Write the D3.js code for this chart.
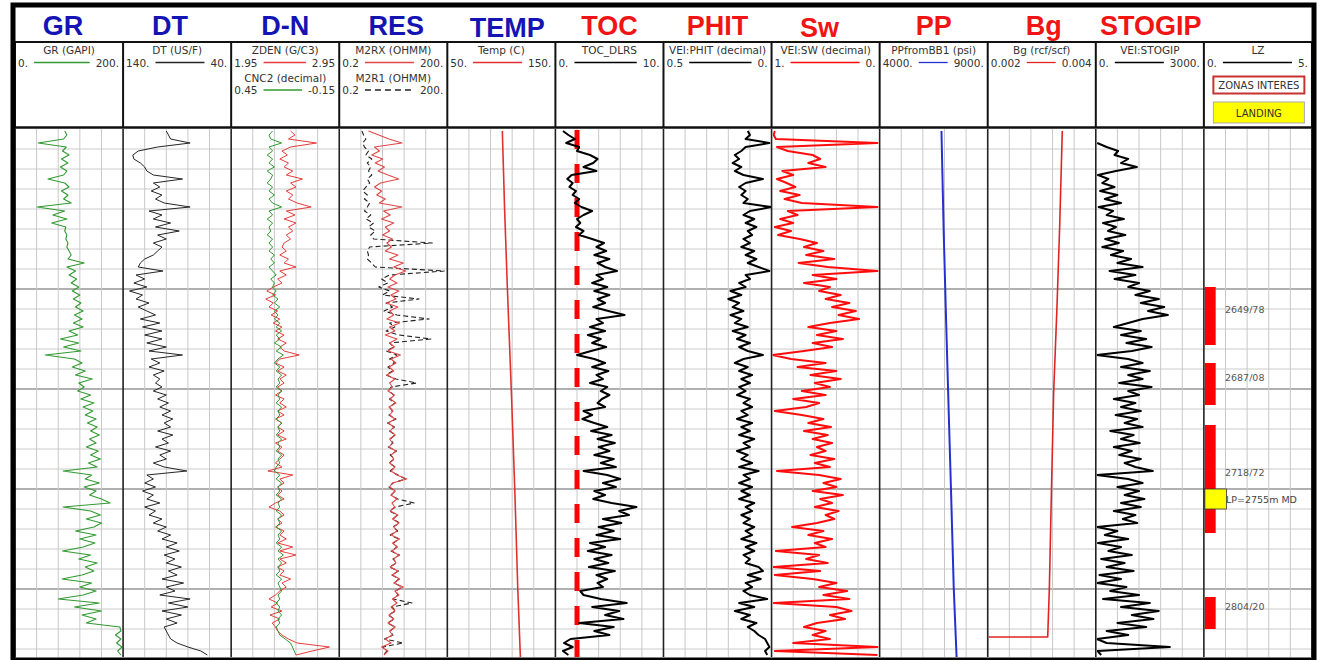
<!DOCTYPE html>
<html>
<head>
<meta charset="utf-8">
<script src="https://cdn.jsdelivr.net/npm/d3@7"></script>
<style>
  body { margin: 0; background: #fff; }
  svg { display: block; }
</style>
</head>
<body>
<div id="chart"></div>
<script>
// ------------------------------------
// Well log panel
// ------------------------------------

// evenly sampled curves: first sample depth and step (m)
const sampleTop = 2571;
const sampleStep = 2;

const grValues = [
  92,96,90,43,95,88,100,86,98,84,
  96,90,61,92,100,86,98,90,104,41,
  92,70,96,68,94,92,96,94,98,96,
  100,104,98,128,96,112,100,114,104,118,
  106,120,108,122,112,126,110,124,108,126,
  100,116,84,118,90,122,56,110,124,106,
  130,112,143,118,128,116,140,122,146,126,
  144,130,150,134,152,140,156,138,150,132,
  154,140,158,136,152,89,142,130,156,128,
  150,138,160,176,89,140,158,132,160,146,
  112,150,120,148,126,88,140,118,152,130,
  146,124,87,142,120,150,126,80,156,110,
  160,124,150,132,194,196,186,196,188,198,
  190,196
];

const dtValues = [
  100,98,96,78,108,126,131,130,124,120,
  118,112,85,112,106,114,104,110,102,78,
  116,104,112,96,110,88,108,100,112,104,
  108,112,120,124,126,103,128,120,130,118,
  134,122,128,116,126,118,110,124,106,122,
  104,120,104,118,100,116,85,114,106,116,
  102,112,106,110,104,112,100,108,98,106,
  96,104,94,102,96,108,94,104,98,110,
  96,106,100,112,102,81,118,112,120,110,
  122,112,118,106,120,110,116,104,112,100,
  108,96,104,90,100,88,102,92,100,86,
  98,90,104,84,100,92,106,78,98,80,
  104,86,100,90,102,100,98,96,90,80,
  68,62
];

const zdenValues = [
  2.50,2.54,2.48,2.74,2.50,2.42,2.47,2.40,2.48,2.44,
  2.52,2.46,2.61,2.50,2.55,2.46,2.52,2.48,2.56,2.69,
  2.46,2.54,2.44,2.55,2.48,2.52,2.46,2.50,2.44,2.42,
  2.46,2.40,2.48,2.44,2.55,2.40,2.46,2.38,2.42,2.34,
  2.28,2.36,2.27,2.34,2.30,2.38,2.32,2.40,2.34,2.42,
  2.36,2.44,2.38,2.46,2.40,2.44,2.58,2.40,2.36,2.44,
  2.38,2.46,2.40,2.44,2.38,2.42,2.36,2.44,2.40,2.46,
  2.38,2.44,2.36,2.42,2.38,2.44,2.38,2.46,2.36,2.42,
  2.38,2.44,2.40,2.36,2.42,2.29,2.52,2.40,2.44,2.38,
  2.42,2.38,2.44,2.36,2.30,2.40,2.44,2.38,2.42,2.36,
  2.44,2.40,2.46,2.38,2.52,2.40,2.55,2.40,2.46,2.38,
  2.44,2.40,2.50,2.42,2.46,2.40,2.36,2.30,2.38,2.32,
  2.42,2.31,2.40,2.33,2.36,2.38,2.42,2.48,2.56,2.86,
  2.70,2.55
];

const cnc2Values = [
  0.22,0.24,0.23,0.17,0.24,0.22,0.25,0.22,0.24,0.21,
  0.25,0.22,0.23,0.25,0.22,0.24,0.21,0.24,0.22,0.17,
  0.24,0.22,0.25,0.22,0.24,0.23,0.25,0.22,0.24,0.22,
  0.24,0.21,0.23,0.21,0.24,0.22,0.20,0.23,0.21,0.22,
  0.20,0.22,0.19,0.21,0.18,0.21,0.19,0.21,0.18,0.20,
  0.17,0.20,0.18,0.21,0.17,0.20,0.16,0.19,0.21,0.18,
  0.20,0.17,0.19,0.18,0.20,0.17,0.19,0.18,0.20,0.17,
  0.19,0.18,0.20,0.17,0.19,0.18,0.20,0.17,0.19,0.18,
  0.20,0.17,0.19,0.18,0.20,0.21,0.18,0.20,0.17,0.19,
  0.18,0.20,0.17,0.19,0.18,0.20,0.17,0.19,0.18,0.20,
  0.17,0.19,0.18,0.20,0.17,0.19,0.16,0.19,0.17,0.19,
  0.18,0.20,0.17,0.19,0.18,0.17,0.19,0.18,0.20,0.18,
  0.19,0.17,0.19,0.18,0.20,0.19,0.18,0.15,0.12,0.11,
  0.10,0.09
];

const m2rxValues = [
  1.3,2.5,4.8,11,1.9,2.6,1.6,3.2,2.0,3.6,
  2.4,4.5,9,2.8,1.9,3.0,2.2,3.8,2.6,11,
  3.4,5.2,3.0,6.5,3.8,5.0,3.2,6.0,4.2,5.6,
  3.8,8.5,5.0,12,6.5,14,7.0,5.0,8.0,4.5,
  9.0,5.5,7.5,4.0,8.5,5.0,6.5,4.2,9.5,5.0,
  7.0,3.8,8.0,5.0,6.8,4.5,10,5.5,7.5,4.8,
  6.5,4.2,7.0,5.0,6.0,4.5,6.8,5.2,7.5,4.8,
  6.2,5.0,7.0,4.6,6.5,5.2,7.2,5.0,6.0,4.8,
  7.5,5.5,6.5,5.0,7.0,5.5,8.0,15,6.0,5.0,
  7.2,5.4,8.0,5.8,7.0,5.2,8.5,6.0,9.0,6.5,
  8.0,5.5,9.5,6.0,8.2,5.8,9.0,6.5,7.5,5.2,
  8.5,6.0,9.5,6.5,12,7.0,9.0,6.0,8.0,5.5,
  7.0,4.8,6.5,4.5,7.2,5.0,6.0,3.8,5.5,3.0,
  4.5,3.5
];

const m2r1Values = [
  0.85,0.95,1.1,0.9,1.0,1.3,1.1,1.6,1.2,1.5,
  1.3,1.6,1.2,1.4,1.1,0.9,1.2,1.0,1.4,1.2,
  1.0,1.5,1.1,1.8,1.3,2.0,1.5,1.8,77,1.4,
  1.2,1.3,1.2,1.6,2.0,165,5,3.0,4.5,2.5,
  5.0,3.2,33,4.0,6.0,3.5,8.0,63,5.0,7.0,
  4.0,9.0,70,5.0,6.5,4.0,8.0,5.0,7.0,4.5,
  6.0,4.0,7.5,28,5.5,4.8,6.5,5.0,7.0,5.0,
  6.0,4.8,7.5,4.4,6.8,5.0,7.0,5.2,6.2,4.6,
  7.8,5.2,6.8,4.8,7.2,5.2,8.5,14,6.2,4.8,
  7.0,5.6,8.4,24,7.2,5.0,8.2,6.2,9.5,6.2,
  8.4,5.2,9.0,6.4,8.0,5.5,9.4,6.2,7.8,5.0,
  8.8,5.8,9.0,6.8,11,7.4,8.6,6.2,21,5.8,
  7.4,4.6,6.8,4.4,7.0,5.2,6.2,3.6,12,3.2,
  4.2,3.4
];

const tocValues = [
  0.7,1.2,1.8,1.0,2.2,2.0,3.2,3.9,3.5,2.6,
  3.8,1.5,1.1,1.6,1.3,1.9,1.6,2.2,1.8,2.4,
  3.4,2.6,2.0,2.3,1.9,2.6,2.2,3.4,4.5,3.8,
  4.7,3.6,5.0,3.9,4.6,5.7,3.8,4.4,3.4,4.8,
  3.6,5.0,3.9,4.6,3.5,4.9,6.4,3.8,4.4,3.2,
  4.6,3.0,4.2,3.4,4.7,3.3,2.0,3.6,4.6,3.4,
  4.9,3.8,4.4,3.2,4.8,4.2,5.0,4.3,3.9,4.6,
  2.6,3.4,2.5,3.6,4.8,3.3,5.2,3.9,5.5,4.0,
  5.0,3.6,5.4,4.2,5.6,2.6,4.8,6.0,4.4,5.6,
  3.6,4.6,3.5,5.2,7.5,5.9,6.8,4.4,6.1,4.0,
  5.4,3.8,6.0,3.2,4.6,3.0,5.2,3.6,4.9,3.1,
  5.5,3.8,4.8,3.9,4.4,2.3,2.6,4.2,6.6,3.4,
  5.9,4.6,6.3,2.2,5.4,3.6,5.0,1.4,0.8,1.6,
  0.7,1.2
];
const tocCutoff = 2.0;

const phitValues = [
  0.11,0.10,0.12,0.01,0.12,0.14,0.17,0.15,0.18,0.14,
  0.17,0.13,0.04,0.12,0.15,0.12,0.14,0.11,0.13,0.00,
  0.10,0.13,0.08,0.12,0.07,0.11,0.09,0.13,0.10,0.14,
  0.08,0.12,0.07,0.11,0.06,0.01,0.12,0.10,0.15,0.12,
  0.19,0.14,0.20,0.15,0.18,0.13,0.19,0.14,0.17,0.11,
  0.18,0.12,0.16,0.10,0.15,0.11,0.04,0.13,0.17,0.11,
  0.15,0.09,0.14,0.10,0.15,0.12,0.16,0.10,0.13,0.09,
  0.14,0.11,0.16,0.09,0.14,0.10,0.15,0.08,0.13,0.10,
  0.16,0.11,0.14,0.09,0.15,0.06,0.13,0.10,0.15,0.09,
  0.14,0.10,0.15,0.08,0.12,0.09,0.14,0.10,0.13,0.08,
  0.12,0.09,0.14,0.07,0.12,0.08,0.13,0.10,0.12,0.06,
  0.04,0.11,0.05,0.12,0.09,0.13,0.10,0.02,0.15,0.08,
  0.17,0.10,0.14,0.07,0.11,0.08,0.06,0.03,0.02,0.01,
  0.03,0.02
];

const swValues = [
  0.97,0.98,0.96,0.02,0.95,0.85,0.62,0.55,0.66,0.50,
  0.90,0.80,0.95,0.86,0.78,0.92,0.74,0.88,0.72,0.02,
  0.85,0.76,0.92,0.80,0.97,0.82,0.94,0.74,0.58,0.70,
  0.52,0.68,0.42,0.75,0.48,0.02,0.62,0.40,0.70,0.46,
  0.56,0.36,0.50,0.28,0.44,0.22,0.38,0.19,0.46,0.66,
  0.40,0.58,0.34,0.62,0.44,0.70,0.99,0.82,0.50,0.76,
  0.40,0.64,0.36,0.60,0.46,0.72,0.50,0.80,0.56,0.68,
  0.97,0.72,0.52,0.66,0.45,0.70,0.48,0.62,0.44,0.58,
  0.50,0.64,0.42,0.60,0.46,0.95,0.56,0.36,0.52,0.40,
  0.62,0.34,0.55,0.44,0.60,0.38,0.50,0.42,0.58,0.81,
  0.52,0.66,0.44,0.60,0.50,0.96,0.56,0.68,0.48,0.98,
  0.55,0.97,0.62,0.40,0.56,0.30,0.52,0.28,0.98,0.40,
  0.26,0.46,0.32,0.58,0.70,0.50,0.62,0.46,0.80,0.02,
  0.97,0.02
];

const stogipValues = [
  null,null,null,40,300,620,520,900,700,1140,
  560,60,350,180,520,120,600,250,700,80,
  480,300,780,200,560,340,820,260,640,180,
  760,420,980,600,1300,380,1100,520,1200,900,
  1500,1100,1750,1250,1900,1450,2000,1300,900,500,
  1250,700,1400,850,1550,1000,28,900,1300,700,
  1500,900,1300,650,1550,900,1200,500,1100,700,
  1250,550,1150,800,1300,400,1050,700,1220,500,
  1000,650,1250,800,1100,1583,30,900,1300,600,
  1200,800,1350,700,1250,500,1100,750,1150,30,
  600,250,900,60,700,350,1000,150,800,300,
  1050,100,700,30,850,400,1200,200,1500,700,
  1750,1000,1600,600,1400,300,900,30,300,2056,
  50,150
];

// slowly varying curves, sampled at their own depths
const tempDepths = [2571, 2610, 2650, 2702, 2750, 2800, 2834];
const tempValues = [100.9, 103.0, 105.6, 109.3, 112.4, 115.2, 117.6];

const ppDepths = [2571, 2620, 2660, 2702, 2750, 2800, 2834];
const ppValues = [6860, 6960, 7060, 7170, 7300, 7430, 7560];

const bgDepths = [2571, 2620, 2660, 2702, 2750, 2800, 2824, 2824, 2834];
const bgValues = [0.00338, 0.00333, 0.00328, 0.00322, 0.00318, 0.00314, 0.00311, 0.00200, 0.00200];

// zones of interest and landing point (LZ track, scale 0-5)
const zoneTops = [2649, 2687, 2718, 2804];
const zoneBases = [2678, 2708, 2772, 2820];
const zoneLabels = ["2649/78", "2687/08", "2718/72", "2804/20"];
const zoneValue = 0.5;
const landingTop = 2750, landingBase = 2760;
const landingValue = 1;
const landingLabel = "LP=2755m MD";

const trackTitles = ["GR", "DT", "D-N", "RES", "TEMP", "TOC", "PHIT", "Sw", "PP", "Bg", "STOGIP", ""];

// depth grid: minor every 10 m, heavier lines at these depths
const majorDepths = [2650, 2700, 2750, 2800];

// ------------------------------------
// Layout
// ------------------------------------
const W = 1317, H = 660;
const left = 15, trackW = 108.08;
const headTop = 42, headBottom = 128, dataTop = 129, dataBottom = 657;
const tx = i => left + i * trackW;

const blue = "#1414b4", red = "#f01414";
const titleColors = trackTitles.map((t, i) => i < 5 ? blue : red);
const titleShift = [-6, -7, 0, 3, 6, 0, 0, -6, 0, 2, 1, 0];

const headFont = "'DejaVu Sans', Verdana, sans-serif";

const svg = d3.select("#chart")
    .append("svg")
    .attr("width", W)
    .attr("height", H)
    .style("background", "#fff");

const y = d3.scaleLinear().domain([2570, 2834]).range([dataTop, dataBottom]);

// curve table built from the arrays above
const curves = [
  {track: 0, row: 0, name: "GR (GAPI)", lo: "0.", hi: "200.", domain: [0, 200], values: grValues, color: "#329a32", width: 1.1},
  {track: 1, row: 0, name: "DT (US/F)", lo: "140.", hi: "40.", domain: [140, 40], values: dtValues, color: "#262626", width: 1},
  {track: 2, row: 0, name: "ZDEN (G/C3)", lo: "1.95", hi: "2.95", domain: [1.95, 2.95], values: zdenValues, color: "#e83c3c", width: 1},
  {track: 2, row: 1, name: "CNC2 (decimal)", lo: "0.45", hi: "-0.15", domain: [0.45, -0.15], values: cnc2Values, color: "#329a32", width: 1},
  {track: 3, row: 0, name: "M2RX (OHMM)", lo: "0.2", hi: "200.", domain: [0.2, 200], log: true, values: m2rxValues, color: "#e04848", width: 1.1},
  {track: 3, row: 1, name: "M2R1 (OHMM)", lo: "0.2", hi: "200.", domain: [0.2, 200], log: true, values: m2r1Values, color: "#222", width: 1.1, dash: "5,3"},
  {track: 4, row: 0, name: "Temp (C)", lo: "50.", hi: "150.", domain: [50, 150], depths: tempDepths, values: tempValues, color: "#e03030", width: 1.6},
  {track: 5, row: 0, name: "TOC_DLRS", lo: "0.", hi: "10.", domain: [0, 10], values: tocValues, color: "#000", width: 2},
  {track: 6, row: 0, name: "VEI:PHIT (decimal)", lo: "0.5", hi: "0.", domain: [0.5, 0], values: phitValues, color: "#000", width: 2},
  {track: 7, row: 0, name: "VEI:SW (decimal)", lo: "1.", hi: "0.", domain: [1, 0], values: swValues, color: "#ff0c0c", width: 2},
  {track: 8, row: 0, name: "PPfromBB1 (psi)", lo: "4000.", hi: "9000.", domain: [4000, 9000], depths: ppDepths, values: ppValues, color: "#2630d0", width: 2},
  {track: 9, row: 0, name: "Bg (rcf/scf)", lo: "0.002", hi: "0.004", domain: [0.002, 0.004], depths: bgDepths, values: bgValues, color: "#e02424", width: 1.6},
  {track: 10, row: 0, name: "VEI:STOGIP", lo: "0.", hi: "3000.", domain: [0, 3000], values: stogipValues, color: "#000", width: 2},
  {track: 11, row: 0, name: "LZ", lo: "0.", hi: "5.", domain: [0, 5], values: [], color: "#000", width: 1}
];

// ------------------------------------
// Grid
// ------------------------------------
const grid = svg.append("g");
const depthTicks = d3.range(2580, 2834, 10);
const isMajor = d => majorDepths.includes(d);

grid.selectAll("line.h")
    .data(depthTicks)
    .enter()
    .append("line")
    .attr("x1", left)
    .attr("x2", tx(12))
    .attr("y1", d => y(d))
    .attr("y2", d => y(d))
    .attr("stroke", d => isMajor(d) ? "#b0b0b0" : "#cccccc")
    .attr("stroke-width", d => isMajor(d) ? 1.8 : 1);

trackTitles.forEach((t, i) => {
  const xg = d3.scaleLinear().domain([0, 5]).range([tx(i), tx(i + 1)]);
  grid.selectAll(null)
      .data([1, 2, 3, 4])
      .enter()
      .append("line")
      .attr("x1", d => xg(d))
      .attr("x2", d => xg(d))
      .attr("y1", dataTop)
      .attr("y2", dataBottom)
      .attr("stroke", "#c8c8c8")
      .attr("stroke-width", 1);
});

// clip paths per track
const defs = svg.append("defs");
trackTitles.forEach((t, i) => {
  defs.append("clipPath")
      .attr("id", "clip" + i)
      .append("rect")
      .attr("x", tx(i) + 1)
      .attr("y", dataTop)
      .attr("width", trackW - 1.5)
      .attr("height", dataBottom - dataTop);
});

// ------------------------------------
// Curves
// ------------------------------------
const plot = svg.append("g");

// TOC cut-off, drawn under the TOC curve
const xToc = d3.scaleLinear().domain([0, 10]).range([tx(5), tx(6)]);
plot.append("line")
    .attr("x1", xToc(tocCutoff))
    .attr("x2", xToc(tocCutoff))
    .attr("y1", dataTop + 1)
    .attr("y2", dataBottom)
    .attr("stroke", "#ff0000")
    .attr("stroke-width", 5)
    .attr("stroke-dasharray", "19,15");

function xScaleFor(c) {
  const s = c.log ? d3.scaleLog() : d3.scaleLinear();
  return s.domain(c.domain).range([tx(c.track), tx(c.track + 1)]);
}

// draw order: dashed deep resistivity under the red one
const drawOrder = [0, 1, 2, 3, 5, 4, 6, 7, 8, 9, 10, 11, 12];
drawOrder.forEach(k => {
  const c = curves[k];
  const xs = xScaleFor(c);
  const pts = c.values.map((v, i) => ({
    d: c.depths ? c.depths[i] : sampleTop + i * sampleStep,
    v: v
  }));
  const line = d3.line()
      .defined(p => p.v != null)
      .x(p => xs(p.v))
      .y(p => y(p.d));
  plot.append("path")
      .datum(pts)
      .attr("clip-path", `url(#clip${c.track})`)
      .attr("d", line)
      .attr("fill", "none")
      .attr("stroke", c.color)
      .attr("stroke-width", c.width)
      .attr("stroke-linejoin", "round")
      .attr("stroke-dasharray", c.dash || null);
});

// LZ track: zones + landing
const xLz = d3.scaleLinear().domain([0, 5]).range([tx(11), tx(12)]);
const lz = svg.append("g");

lz.selectAll("rect.zone")
    .data(zoneTops)
    .enter()
    .append("rect")
    .attr("x", xLz(0) + 1)
    .attr("y", d => y(d))
    .attr("width", xLz(zoneValue) - xLz(0))
    .attr("height", (d, i) => y(zoneBases[i]) - y(d))
    .attr("fill", "#ff0000");

lz.selectAll("text.zone")
    .data(zoneLabels)
    .enter()
    .append("text")
    .attr("x", xLz(landingValue) - 0.5)
    .attr("y", (d, i) => (y(zoneTops[i]) + y(zoneBases[i])) / 2 - 3)
    .attr("font-family", headFont)
    .attr("font-size", 9.5)
    .attr("fill", "#555")
    .text(d => d);

lz.append("rect")
    .attr("x", xLz(0) + 1)
    .attr("y", y(landingTop))
    .attr("width", xLz(landingValue) - xLz(0))
    .attr("height", y(landingBase) - y(landingTop))
    .attr("fill", "#ffff00")
    .attr("stroke", "#333")
    .attr("stroke-width", 0.8);

lz.append("text")
    .attr("x", xLz(landingValue) + 0.5)
    .attr("y", (y(landingTop) + y(landingBase)) / 2 + 3.5)
    .attr("font-family", headFont)
    .attr("font-size", 9.5)
    .attr("fill", "#444")
    .text(landingLabel);

// ------------------------------------
// Track separators & frame
// ------------------------------------
const frame = svg.append("g");

frame.append("rect")
    .attr("x", left)
    .attr("y", headTop)
    .attr("width", tx(12) - left)
    .attr("height", headBottom - headTop)
    .attr("fill", "#fff");

d3.range(13).forEach(i => {
  frame.append("line")
      .attr("x1", tx(i)).attr("x2", tx(i))
      .attr("y1", headTop).attr("y2", headBottom)
      .attr("stroke", "#111").attr("stroke-width", 2);
  frame.append("line")
      .attr("x1", tx(i)).attr("x2", tx(i))
      .attr("y1", dataTop).attr("y2", dataBottom)
      .attr("stroke", "#222").attr("stroke-width", 1.6);
});

frame.append("line")
    .attr("x1", left).attr("x2", tx(12))
    .attr("y1", headTop).attr("y2", headTop)
    .attr("stroke", "#111").attr("stroke-width", 2);

frame.append("line")
    .attr("x1", left).attr("x2", tx(12))
    .attr("y1", headBottom - 0.5).attr("y2", headBottom - 0.5)
    .attr("stroke", "#111").attr("stroke-width", 2.5);

frame.append("rect")
    .attr("x", 13)
    .attr("y", 5)
    .attr("width", 1301)
    .attr("height", 655)
    .attr("fill", "none")
    .attr("stroke", "#000")
    .attr("stroke-width", 5);

// ------------------------------------
// Titles
// ------------------------------------
svg.append("g")
    .selectAll("text")
    .data(trackTitles)
    .enter()
    .append("text")
    .attr("x", (d, i) => tx(i) + trackW / 2 + titleShift[i])
    .attr("y", (d, i) => d === "TEMP" || d === "Sw" ? 37 : 35)
    .attr("text-anchor", "middle")
    .attr("font-family", "'Liberation Sans', Arial, sans-serif")
    .attr("font-weight", "bold")
    .attr("font-size", 27)
    .attr("fill", (d, i) => titleColors[i])
    .text(d => d);

// ------------------------------------
// Curve headers
// ------------------------------------
const head = svg.append("g")
    .attr("font-family", headFont)
    .attr("font-size", 10.5)
    .attr("fill", "#333");

curves.forEach(c => {
  const x0 = tx(c.track), x1 = tx(c.track + 1);
  const base = 54 + c.row * 27.5;

  head.append("text")
      .attr("x", (x0 + x1) / 2)
      .attr("y", base)
      .attr("text-anchor", "middle")
      .text(c.name);

  const loT = head.append("text")
      .attr("x", x0 + 3)
      .attr("y", base + 12.5)
      .text(c.lo);
  const hiT = head.append("text")
      .attr("x", x1 - 4)
      .attr("y", base + 12.5)
      .attr("text-anchor", "end")
      .text(c.hi);

  const loEnd = x0 + 3 + loT.node().getComputedTextLength();
  const hiStart = x1 - 4 - hiT.node().getComputedTextLength();

  head.append("line")
      .attr("x1", loEnd + 6)
      .attr("x2", hiStart - 6)
      .attr("y1", base + 8.5)
      .attr("y2", base + 8.5)
      .attr("stroke", c.color)
      .attr("stroke-width", 1.3)
      .attr("stroke-dasharray", c.dash ? "6,4" : null);
});

// LZ legend boxes
const lx0 = tx(11);
head.append("rect")
    .attr("x", lx0 + 9.5).attr("y", 76.5)
    .attr("width", 91).attr("height", 17)
    .attr("fill", "#fff")
    .attr("stroke", "#c83232")
    .attr("stroke-width", 2);
head.append("text")
    .attr("x", lx0 + 55).attr("y", 89)
    .attr("text-anchor", "middle")
    .attr("font-size", 10)
    .text("ZONAS INTERES");

head.append("rect")
    .attr("x", lx0 + 9.5).attr("y", 102)
    .attr("width", 91).attr("height", 21)
    .attr("fill", "#ffff00")
    .attr("stroke", "#aaa")
    .attr("stroke-width", 1);
head.append("text")
    .attr("x", lx0 + 55).attr("y", 116.5)
    .attr("text-anchor", "middle")
    .attr("font-size", 10)
    .text("LANDING");
</script>
</body>
</html>
